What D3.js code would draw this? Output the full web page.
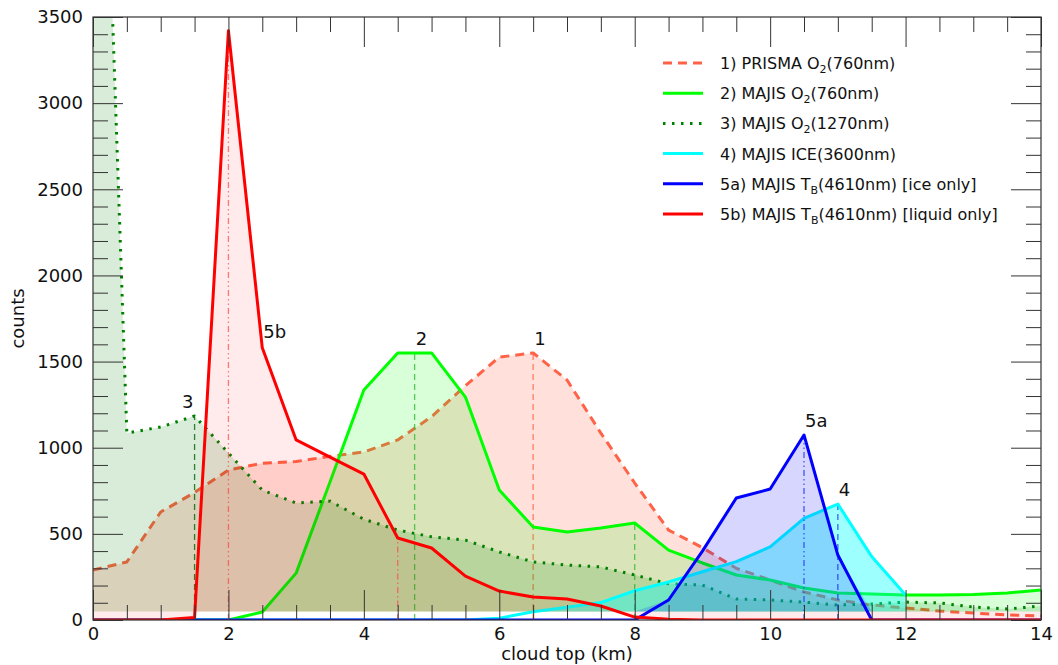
<!DOCTYPE html>
<html><head><meta charset="utf-8">
<script src="https://cdn.jsdelivr.net/npm/d3@7"></script>
<style>
html,body{margin:0;padding:0;background:#fff;}
text{font-family:"DejaVu Sans",sans-serif;}
</style></head>
<body><svg id="c" width="1058" height="665"></svg>
<script>
// ---- data (cloud top height in km, counts) ----
const xs = [0,0.5,1,1.5,2,2.5,3,3.5,4,4.5,5,5.5,6,6.5,7,7.5,8,8.5,9,9.5,10,10.5,11,11.5,12,12.5,13,13.5,14];
const prisma760 = [290,337,627,740,870,910,920,950,975,1045,1180,1360,1526,1550,1393,1085,795,522,420,300,232,163,116,87,70,52,40,29,23];
const majis760 = [0,0,0,0,0,46,272,801,1335,1550,1550,1294,754,540,511,534,563,406,331,261,232,186,157,151,145,145,148,157,174];
const majis1270 = [6800,1085,1120,1184,969,754,679,690,585,522,483,464,395,337,319,308,261,210,203,122,116,104,87,93,104,99,75,64,81];
const xsIce = [0,0.5,1,1.5,2,2.5,3,3.5,4,4.5,5,5.5,6,6.5,7,7.5,8,8.5,9,9.5,10,10.5,11,11.5,12];
const majisIce = [0,0,0,0,0,0,0,0,0,0,0,0,10,48,74,101,170,221,280,339,424,590,673,368,145];
const tbIce = [0,0,0,0,0,0,0,0,0,0,0,0,0,0,0,0,0,116,400,708,760,1074,377,0,0,0,0,0,0];
const tbLiquid = [0,0,0,15,3420,1580,1045,945,847,476,418,255,168,133,122,81,17,5,0,0,0,0,0,0,0,0,0,0,0];
const legendLabels = [
  ["1) PRISMA O","2","(760nm)"],
  ["2) MAJIS O","2","(760nm)"],
  ["3) MAJIS O","2","(1270nm)"],
  ["4) MAJIS ICE(3600nm)","",""],
  ["5a) MAJIS T","B","(4610nm) [ice only]"],
  ["5b) MAJIS T","B","(4610nm) [liquid only]"]
];
const peakNames = ["1","2","3","4","5a","5b"];
// peak markers: series index, x (km)
const markers = [
  {s:0, x:6.5, label:true},
  {s:1, x:4.75, v:1550, label:true},
  {s:1, x:8},
  {s:2, x:1.5, label:true},
  {s:3, x:11, label:true},
  {s:4, x:10.5, label:true},
  {s:5, x:2},
  {s:5, x:4.5}
];
const xTicks = [0,2,4,6,8,10,12,14];
const yTicks = [0,500,1000,1500,2000,2500,3000,3500];

// ---- chart ----
const m={l:93,r:1041,t:17,b:620};
const x=d3.scaleLinear().domain([0,14]).range([m.l,m.r]);
const y=d3.scaleLinear().domain([0,3500]).range([m.b,m.t]);
const svg=d3.select("#c");
svg.append("defs").append("clipPath").attr("id","clip")
  .append("rect").attr("x",m.l).attr("y",m.t).attr("width",m.r-m.l).attr("height",m.b-m.t);

const series=[
  {xs:xs, v:prisma760, color:"#ff6347", fa:0.2, dash:"9,6", mdash:"6,4", mcolor:"#ff6347", mo:0.8, anchor:"start"},
  {xs:xs, v:majis760, color:"#00ff00", fa:0.15, dash:null, mdash:"6,4", mcolor:"#33bb33", mo:0.8, anchor:"start"},
  {xs:xs, v:majis1270, color:"#008000", fa:0.15, dash:"2.5,6.5", mdash:"6,4", mcolor:"#006400", mo:0.8, anchor:"end"},
  {xs:xsIce, v:majisIce, color:"#00ffff", fa:0.38, dash:null, mdash:"6,4", mcolor:"#3050ee", mo:0.9, anchor:"start"},
  {xs:xs, v:tbIce, color:"#0000ff", fa:0.16, dash:null, mdash:"6,3,1.5,3,1.5,3", mcolor:"#3344ff", mo:0.9, anchor:"start"},
  {xs:xs, v:tbLiquid, color:"#ff0000", fa:0.08, dash:null, mdash:"6,3,1.5,3,1.5,3", mcolor:"#ff4444", mo:0.7, anchor:"start", under:true}
];

const g=svg.append("g").attr("clip-path","url(#clip)");
const base=50;
series.forEach((s,i)=>{
  const pts=s.xs.map((xv,j)=>[xv,s.v[j]]);
  const area=d3.area().x(d=>x(d[0])).y0(y(base)).y1(d=>y(s.under?d[1]:Math.max(d[1],base)));
  g.append("path").attr("d",area(pts)).attr("fill",s.color).attr("fill-opacity",s.fa);
  markers.filter(mk=>mk.s===i).forEach(mk=>{
    let v=mk.v;
    if(v===undefined){v=s.v[s.xs.indexOf(mk.x)];}
    const dash = (i===5 && mk.x===4.5) ? "6,3,1.5,3" : s.mdash;
    g.append("line").attr("x1",x(mk.x)).attr("x2",x(mk.x)).attr("y1",y(0)).attr("y2",y(v))
      .attr("stroke",s.mcolor).attr("stroke-width",1.3).attr("stroke-dasharray",dash).attr("stroke-opacity",s.mo);
  });
  const line=d3.line().x(d=>x(d[0])).y(d=>y(d[1]));
  const p=g.append("path").attr("d",line(pts)).attr("fill","none").attr("stroke",s.color)
    .attr("stroke-width",3).attr("stroke-linejoin","round");
  if(s.dash) p.attr("stroke-dasharray",s.dash);
});

// peak labels
markers.filter(mk=>mk.label).forEach(mk=>{
  const s=series[mk.s];
  let v=mk.v; if(v===undefined){v=s.v[s.xs.indexOf(mk.x)];}
  svg.append("text").attr("x",x(mk.x)+(s.anchor==="end"?-1:1)).attr("y",y(v)-8)
    .attr("text-anchor",s.anchor).attr("font-size",18).attr("fill","#111").text(peakNames[mk.s]);
});
{
  const s=series[5]; const xv=2.5; const v=s.v[s.xs.indexOf(xv)];
  svg.append("text").attr("x",x(xv)+1).attr("y",y(v)-10).attr("font-size",18).attr("fill","#111").text(peakNames[5]);
}

// axes: ticks inward
const minorX=d3.range(0,14.01,0.5).filter(v=>v%2!==0);
const minorY=d3.range(0,3501,100).filter(v=>v%500!==0);
function styleAxis(sel){sel.select(".domain").remove(); sel.selectAll("line").attr("stroke","#333"); sel.selectAll("text").attr("font-size",18).attr("fill","#111").attr("font-family","DejaVu Sans");}
svg.append("g").attr("transform",`translate(0,${m.b})`).call(d3.axisBottom(x).tickValues(xTicks).tickSize(-30).tickPadding(7).tickFormat(d3.format("d"))).call(styleAxis);
svg.append("g").attr("transform",`translate(0,${m.b})`).call(d3.axisBottom(x).tickValues(minorX).tickSize(-15).tickFormat("")).call(styleAxis);
svg.append("g").attr("transform",`translate(0,${m.t})`).call(d3.axisTop(x).tickValues(xTicks).tickSize(-30).tickFormat("")).call(styleAxis);
svg.append("g").attr("transform",`translate(0,${m.t})`).call(d3.axisTop(x).tickValues(minorX).tickSize(-15).tickFormat("")).call(styleAxis);
svg.append("g").attr("transform",`translate(${m.l},0)`).call(d3.axisLeft(y).tickValues(yTicks).tickSize(-30).tickPadding(10).tickFormat(d3.format("d"))).call(styleAxis);
svg.append("g").attr("transform",`translate(${m.l},0)`).call(d3.axisLeft(y).tickValues(minorY).tickSize(-15).tickFormat("")).call(styleAxis);
svg.append("g").attr("transform",`translate(${m.r},0)`).call(d3.axisRight(y).tickValues(yTicks).tickSize(-30).tickFormat("")).call(styleAxis);
svg.append("g").attr("transform",`translate(${m.r},0)`).call(d3.axisRight(y).tickValues(minorY).tickSize(-15).tickFormat("")).call(styleAxis);
svg.append("rect").attr("x",m.l).attr("y",m.t).attr("width",m.r-m.l).attr("height",m.b-m.t)
  .attr("fill","none").attr("stroke","#333").attr("stroke-width",1.2);

svg.append("text").attr("x",(m.l+m.r)/2).attr("y",660).attr("text-anchor","middle").attr("font-size",18).attr("fill","#111").text("cloud top (km)");
svg.append("text").attr("transform",`translate(24,${(m.t+m.b)/2}) rotate(-90)`).attr("text-anchor","middle").attr("font-size",18).attr("fill","#111").text("counts");

// legend
const lg=svg.append("g");
series.forEach((s,i)=>{
  const ly=63+i*30.2;
  const l=lg.append("line").attr("x1",663).attr("x2",703).attr("y1",ly).attr("y2",ly).attr("stroke",s.color).attr("stroke-width",3);
  if(s.dash) l.attr("stroke-dasharray",s.dash);
  const t=lg.append("text").attr("x",720).attr("y",ly+6).attr("font-size",16).attr("fill","#111");
  const L=legendLabels[i];
  t.append("tspan").text(L[0]);
  if(L[1]){t.append("tspan").attr("font-size",11).attr("dy",4).text(L[1]); t.append("tspan").attr("dy",-4).text(L[2]);}
});
</script></body></html>
